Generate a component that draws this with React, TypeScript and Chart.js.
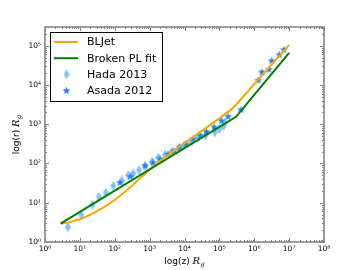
import React, { useEffect, useRef } from "react";
import { Chart, registerables } from "chart.js";

Chart.register(...registerables);

// ---- data ----
const blJetZ = [2.82, 5, 7.2, 10, 17.4, 25, 41.7, 63, 100, 178, 316, 562, 1000, 1778, 3162, 10000, 31623, 100000, 245000, 10000000];
const blJetR = [2.95, 3.16, 3.55, 3.8, 4.68, 5.5, 7.08, 8.9, 11.7, 17.8, 27.5, 43.7, 69, 107, 158, 331, 676, 1413, 2570, 104700];

const brokenZ = [2.8, 300000, 10000000];
const brokenR = [2.95, 1550, 66000];

const hadaZ = [4.5, 11, 23, 35, 55, 91, 160, 245, 340, 500, 740, 1170, 1780, 2750, 4300, 7000, 10200, 16000, 24500, 40000, 74000, 100000, 130000, 145000];
const hadaR = [2.4, 4.9, 8.9, 14, 18, 27, 37, 50, 56, 68, 85, 110, 141, 166, 200, 251, 302, 363, 447, 525, 630, 760, 890, 1100];

const asadaZ = [141, 282, 741, 1259, 1995, 3388, 5012, 7413, 11220, 17783, 28184, 42658, 70795, 114815, 177828, 416869, 1290000, 1660000, 2630000, 3160000, 5250000, 7080000];
const asadaR = [33, 47, 89, 107, 132, 174, 209, 263, 316, 427, 525, 646, 851, 1230, 1585, 2344, 13183, 21380, 25119, 41687, 58884, 79433];

const seriesLabels = ["BLJet", "Broken PL fit", "Hada 2013", "Asada 2012"];
const xTickExponents = [0, 1, 2, 3, 4, 5, 6, 7, 8];
const yTickExponents = [0, 1, 2, 3, 4, 5];
const xMin = 1;
const xMax = 1e8;
const yMin = 1;
const yMax = 3e5;
const xTitle = "log(z)";
const yTitle = "log(r)";
const unitMain = "R";
const unitSub = "g";

const ORANGE = "#ffa500";
const GREEN = "#008000";
const HADA = "#84c1fb";
const ASADA = "#1e80f5";
const FRAME = "#858585";

const SUP = "⁰¹²³⁴⁵⁶⁷⁸⁹";
const powLabel = (e: number) =>
  "10" + String(e).split("").map((d) => SUP[Number(d)]).join("");

function makeDiamond(): HTMLCanvasElement {
  const c = document.createElement("canvas");
  c.width = 6;
  c.height = 10;
  const g = c.getContext("2d")!;
  g.fillStyle = HADA;
  g.beginPath();
  g.moveTo(3, 0);
  g.lineTo(6, 5);
  g.lineTo(3, 10);
  g.lineTo(0, 5);
  g.closePath();
  g.fill();
  return c;
}

function makeStar(): HTMLCanvasElement {
  const c = document.createElement("canvas");
  c.width = 9;
  c.height = 9;
  const g = c.getContext("2d")!;
  g.fillStyle = ASADA;
  g.beginPath();
  const cx = 4.5, cy = 4.7, ro = 4.2, ri = 1.7;
  for (let i = 0; i < 10; i++) {
    const r = i % 2 === 0 ? ro : ri;
    const a = -Math.PI / 2 + (i * Math.PI) / 5;
    const x = cx + r * Math.cos(a);
    const y = cy + r * Math.sin(a);
    if (i === 0) g.moveTo(x, y);
    else g.lineTo(x, y);
  }
  g.closePath();
  g.fill();
  return c;
}

function drawUnitTitle(ctx: CanvasRenderingContext2D, cx: number, cy: number, rot: number, main: string) {
  ctx.save();
  ctx.translate(cx, cy);
  ctx.rotate(rot);
  ctx.fillStyle = "#000";
  ctx.textBaseline = "alphabetic";
  ctx.textAlign = "left";
  const f1 = '9px "DejaVu Sans"';
  const f2 = 'italic 10px "DejaVu Serif"';
  const f3 = 'italic 6.5px "DejaVu Serif"';
  const t1 = main + " ";
  ctx.font = f1;
  const w1 = ctx.measureText(t1).width;
  ctx.font = f2;
  const w2 = ctx.measureText(unitMain).width;
  ctx.font = f3;
  const w3 = ctx.measureText(unitSub).width;
  const total = w1 + w2 + w3 + 0.5;
  let x = -total / 2;
  const base = 3.5;
  ctx.font = f1;
  ctx.fillText(t1, x, base);
  x += w1;
  ctx.font = f2;
  ctx.fillText(unitMain, x, base);
  x += w2 + 0.5;
  ctx.font = f3;
  ctx.fillText(unitSub, x, base + 2);
  ctx.restore();
}

const framePlugin = {
  id: "frameTicks",
  afterDatasetsDraw(chart: any) {
    const { ctx, chartArea } = chart;
    const { left, right, top, bottom } = chartArea;
    const xs = chart.scales.x;
    const ys = chart.scales.y;
    ctx.save();
    ctx.strokeStyle = FRAME;
    ctx.lineWidth = 1;
    const major = 4;
    const minor = 2;
    for (let e = 0; e <= 8; e++) {
      for (let k = 1; k <= 9; k++) {
        const v = k * Math.pow(10, e);
        if (v < xMin || v > xMax) continue;
        const px = Math.round(xs.getPixelForValue(v)) + 0.5;
        const len = k === 1 ? major : minor;
        ctx.beginPath();
        ctx.moveTo(px, bottom);
        ctx.lineTo(px, bottom - len);
        ctx.moveTo(px, top);
        ctx.lineTo(px, top + len);
        ctx.stroke();
      }
    }
    for (let e = 0; e <= 6; e++) {
      for (let k = 1; k <= 9; k++) {
        const v = k * Math.pow(10, e);
        if (v < yMin || v > yMax) continue;
        const py = Math.round(ys.getPixelForValue(v)) + 0.5;
        const len = k === 1 ? major : minor;
        ctx.beginPath();
        ctx.moveTo(left, py);
        ctx.lineTo(left + len, py);
        ctx.moveTo(right, py);
        ctx.lineTo(right - len, py);
        ctx.stroke();
      }
    }
    ctx.lineWidth = 1.6;
    ctx.strokeRect(left, top, right - left, bottom - top);
    ctx.restore();
  },
  afterDraw(chart: any) {
    const { ctx, chartArea } = chart;
    const { left, right, top, bottom } = chartArea;
    drawUnitTitle(ctx, (left + right) / 2, 260, 0, xTitle);
    drawUnitTitle(ctx, 15, (top + bottom) / 2, -Math.PI / 2, yTitle);
    ctx.save();
    const bx = 50.5, by = 32.5, bw = 112, bh = 69;
    ctx.fillStyle = "#fff";
    ctx.fillRect(bx, by, bw, bh);
    ctx.strokeStyle = "#000";
    ctx.lineWidth = 1;
    ctx.strokeRect(bx, by, bw, bh);
    ctx.font = '11px "DejaVu Sans"';
    ctx.textBaseline = "middle";
    ctx.textAlign = "left";
    chart.data.datasets.forEach((ds: any, i: number) => {
      const y = 42 + i * 16.2;
      if (ds.showLine === false) {
        const img = ds.pointStyle as HTMLCanvasElement;
        ctx.drawImage(img, 66.5 - img.width / 2, y - img.height / 2);
      } else {
        ctx.strokeStyle = ds.borderColor;
        ctx.lineWidth = 2;
        ctx.beginPath();
        ctx.moveTo(54, y);
        ctx.lineTo(78, y);
        ctx.stroke();
      }
      ctx.fillStyle = "#000";
      ctx.fillText(ds.label, 87, y + 0.5);
    });
    ctx.restore();
  },
};

export default function App() {
  const ref = useRef<HTMLCanvasElement | null>(null);
  useEffect(() => {
    if (!ref.current) return;
    const diamond = makeDiamond();
    const star = makeStar();
    const chart = new Chart(ref.current, {
      type: "line",
      data: {
        datasets: [
          {
            label: seriesLabels[0],
            data: blJetZ.map((z, i) => ({ x: z, y: blJetR[i] })),
            borderColor: ORANGE,
            borderWidth: 2,
            pointRadius: 0,
            fill: false,
            tension: 0,
            order: 1,
          },
          {
            label: seriesLabels[1],
            data: brokenZ.map((z, i) => ({ x: z, y: brokenR[i] })),
            borderColor: GREEN,
            borderWidth: 2,
            pointRadius: 0,
            fill: false,
            tension: 0,
            order: 0,
          },
          {
            label: seriesLabels[2],
            data: hadaZ.map((z, i) => ({ x: z, y: hadaR[i] })),
            showLine: false,
            pointStyle: diamond,
            pointRadius: 5,
            order: 3,
          },
          {
            label: seriesLabels[3],
            data: asadaZ.map((z, i) => ({ x: z, y: asadaR[i] })),
            showLine: false,
            pointStyle: star,
            pointRadius: 4,
            order: 2,
          },
        ] as any,
      },
      options: {
        animation: false,
        responsive: false,
        devicePixelRatio: 1,
        layout: { padding: { top: 27, right: 36, left: 0, bottom: 0 } },
        plugins: { legend: { display: false }, tooltip: { enabled: false } },
        scales: {
          x: {
            type: "logarithmic",
            min: xMin,
            max: xMax,
            grid: { display: false, drawTicks: false },
            border: { display: false },
            afterBuildTicks: (s: any) => {
              s.ticks = xTickExponents.map((e) => ({ value: Math.pow(10, e) }));
            },
            afterFit: (s: any) => {
              s.height = 28;
            },
            ticks: {
              autoSkip: false,
              maxRotation: 0,
              minRotation: 0,
              padding: 3,
              color: "#000",
              font: { family: "DejaVu Sans", size: 7.5 },
              callback: (v: any) => powLabel(Math.round(Math.log10(Number(v)))),
            },
          },
          y: {
            type: "logarithmic",
            min: yMin,
            max: yMax,
            grid: { display: false, drawTicks: false },
            border: { display: false },
            afterBuildTicks: (s: any) => {
              s.ticks = yTickExponents.map((e) => ({ value: Math.pow(10, e) }));
            },
            afterFit: (s: any) => {
              s.width = 45;
            },
            ticks: {
              autoSkip: false,
              padding: 4,
              color: "#000",
              font: { family: "DejaVu Sans", size: 7.5 },
              callback: (v: any) => powLabel(Math.round(Math.log10(Number(v)))),
            },
          },
        },
      } as any,
      plugins: [framePlugin as any],
    });
    return () => chart.destroy();
  }, []);
  return (
    <div style={{ position: "fixed", left: 0, top: 0, width: 360, height: 270, background: "#fff" }}>
      <canvas ref={ref} width={360} height={270} style={{ display: "block" }} />
    </div>
  );
}
